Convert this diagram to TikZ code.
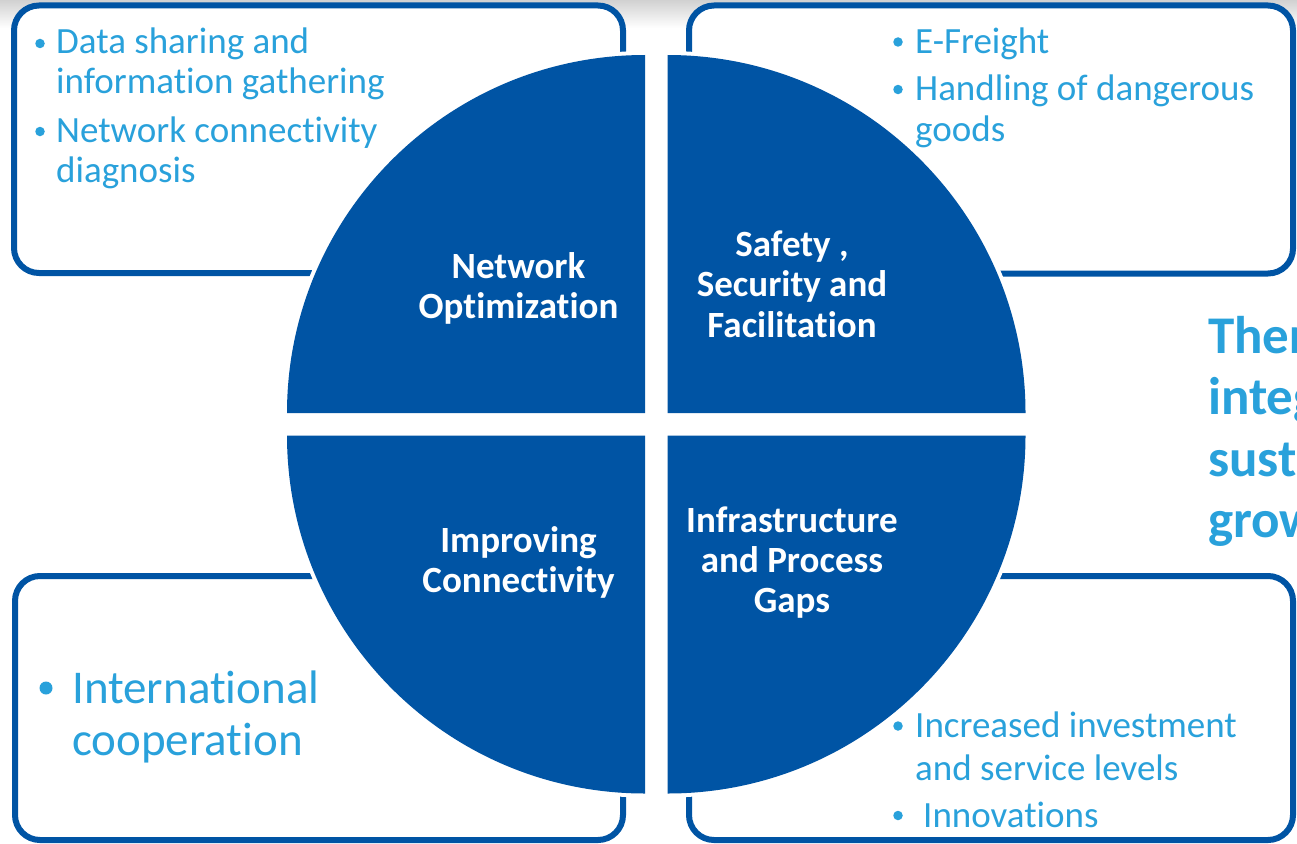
\documentclass[tikz,border=0pt]{standalone}
\usepackage{fontspec}
\setmainfont{Carlito}[RawFeature={-liga;-clig;-calt}]
\definecolor{dblue}{RGB}{0,84,164}
\definecolor{lblue}{RGB}{41,161,219}
\tikzset{
  panel/.style={draw=dblue, line width=6pt, fill=white, rounded corners=25pt},
  quad/.style={fill=dblue},
  quadback/.style={draw=white, line width=8pt, fill=white},
  bul/.style={anchor=base west, inner sep=0pt, text=lblue, font=\fontsize{37}{40}\selectfont},
  bigbul/.style={anchor=base west, inner sep=0pt, text=lblue, font=\fontsize{47}{50}\selectfont},
  lab/.style={anchor=base, inner sep=0pt, text=white, font=\bfseries\fontsize{37}{40}\selectfont},
  side/.style={anchor=base west, inner sep=0pt, text=lblue, font=\bfseries\fontsize{53}{60}\selectfont},
  dot/.style={circle, fill=lblue, inner sep=0pt, minimum size=9.5pt},
  bigdot/.style={circle, fill=lblue, inner sep=0pt, minimum size=13pt}
}
\begin{document}
\begin{tikzpicture}[x=1pt,y=-1pt]
\useasboundingbox (0,0) rectangle (1297,843);
\begin{scope}
\clip (0,0) rectangle (1297,843);
% top shadow
\shade[top color=black!18, bottom color=white] (0,0) rectangle (1297,28);
% panels
\draw[panel] (14,5.5) rectangle (623,273);
\draw[panel] (689,5.5) rectangle (1293,273.5);
\draw[panel] (15,576) rectangle (623,840);
\draw[panel] (689,576) rectangle (1293,840);
% quadrant backing (white halo)
\path[quadback] (645,413) -- (287,413) arc[start angle=180, end angle=90, radius=358pt] -- cycle;
\path[quadback] (667.5,413) -- (667.5,55) arc[start angle=90, end angle=0, radius=358pt] -- cycle;
\path[quadback] (645,435.5) -- (287,435.5) arc[start angle=180, end angle=270, radius=358pt] -- cycle;
\path[quadback] (667.5,435.5) -- (1025.5,435.5) arc[start angle=0, end angle=-90, radius=358pt] -- cycle;
% quadrants
\path[quad] (645,413) -- (287,413) arc[start angle=180, end angle=90, radius=358pt] -- cycle;
\path[quad] (667.5,413) -- (667.5,55) arc[start angle=90, end angle=0, radius=358pt] -- cycle;
\path[quad] (645,435.5) -- (287,435.5) arc[start angle=180, end angle=270, radius=358pt] -- cycle;
\path[quad] (667.5,435.5) -- (1025.5,435.5) arc[start angle=0, end angle=-90, radius=358pt] -- cycle;
% quadrant labels
\node[lab] (no1) at (518.5,278) {Network};
\node[lab] (no2) at (518.5,318) {Optimization};
\node[lab] (sf1) at (792,256.5) {Safety ,};
\node[lab] (sf2) at (792,296.5) {Security and};
\node[lab] (sf3) at (792,337) {Facilitation};
\node[lab] (ic1) at (518.5,552) {Improving};
\node[lab] (ic2) at (518.5,592) {Connectivity};
\node[lab] (ip1) at (792,532) {Infrastructure};
\node[lab] (ip2) at (792,572) {and Process};
\node[lab] (ip3) at (792,612) {Gaps};
% top-left bullets
\node[dot] (tld1) at (40,43.5) {};
\node[bul] (tl1) at (56,54) {Data sharing and};
\node[bul] (tl2) at (56,93) {information gathering};
\node[dot] (tld2) at (40,131.5) {};
\node[bul] (tl3) at (56,142) {Network connectivity};
\node[bul] (tl4) at (56,182) {diagnosis};
% top-right bullets
\node[dot] (trd1) at (898,42) {};
\node[bul] (tr1) at (915,53) {E-Freight};
\node[dot] (trd2) at (898,89.5) {};
\node[bul] (tr2) at (915,100) {Handling of dangerous};
\node[bul] (tr3) at (915,141.5) {goods};
% bottom-left bullet
\node[bigdot] (bld1) at (46,688) {};
\node[bigbul] (bl1) at (72,703) {International};
\node[bigbul] (bl2) at (72,755) {cooperation};
% bottom-right bullets
\node[dot] (brd1) at (898,726) {};
\node[bul] (br1) at (915,737) {Increased investment};
\node[bul] (br2) at (915,780) {and service levels};
\node[dot] (brd2) at (898,815.5) {};
\node[bul] (br3) at (923,827) {Innovations};
% side text (cut at right edge, as in the reference)
\node[side] (s1) at (1208,353) {Ther};
\node[side] (s2) at (1208,414) {integ};
\node[side] (s3) at (1208,476) {sust};
\node[side] (s4) at (1208,537) {grow};
\end{scope}
\end{tikzpicture}
\end{document}
